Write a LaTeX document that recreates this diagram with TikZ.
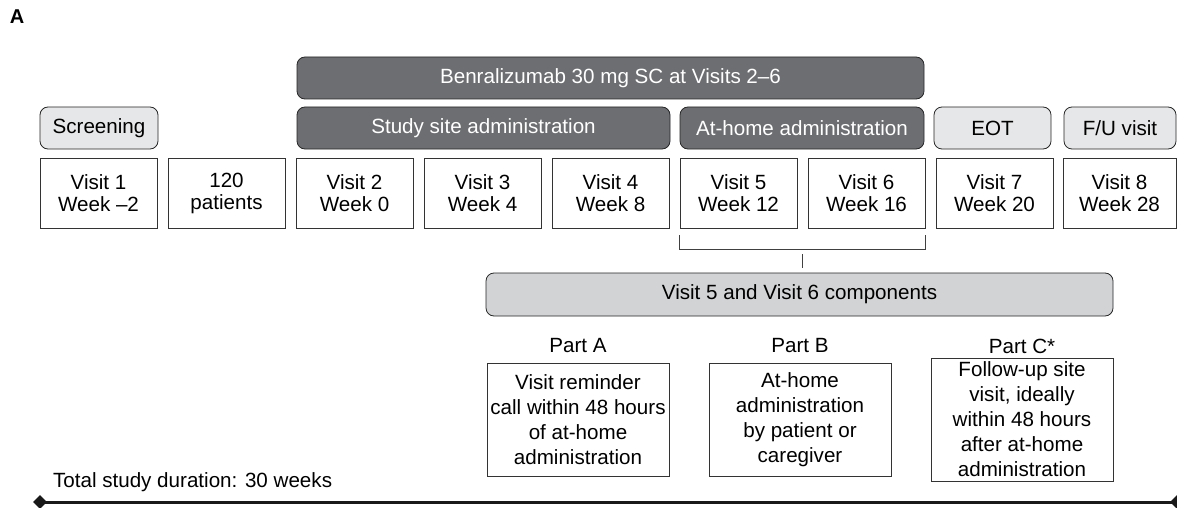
\documentclass[tikz,border=0pt]{standalone}
\usepackage{fontspec}
\setmainfont{Liberation Sans}
\usepackage{tikz}
\usetikzlibrary{shapes,arrows,fit, positioning, arrows.meta, calc}

\definecolor{darkbar}{RGB}{109,110,113}
\definecolor{lightbar}{RGB}{230,231,232}
\definecolor{compbar}{RGB}{209,211,212}

\begin{document}
\begin{tikzpicture}[
    % GLOBAL CFG
    x=0.5pt, y=-0.5pt,
    font=\fontsize{10.3}{12.5}\selectfont,
    % Styles
    visit/.style={% For the visit boxes
        rectangle,
        draw=black!80,
        thin,
        align=center,
        minimum width=58.5pt,
        minimum height=35pt,
        inner sep=1pt,
        font=\fontsize{10.3}{11}\selectfont,
        },
    darkhead/.style={% Dark headers with white text
        rectangle,
        rounded corners=4pt,
        draw=black!85,
        fill=darkbar,
        text=white,
        minimum height=21pt,
        },
    lighthead/.style={% Light headers
        rectangle,
        rounded corners=4pt,
        draw=black!85,
        fill=lightbar,
        minimum height=21pt,
        },
    part/.style={% For the part boxes
        rectangle,
        draw=black!80,
        thin,
        align=center,
        minimum width=91pt,
        inner sep=1pt,
        },
    tick/.style={% Ends of the timeline
        diamond,
        fill=black!90,
        inner sep=0pt,
        minimum size=7pt,
        },
    bracket/.style={% Bracket under visit 5 and 6
        draw=black!75,
        thin,
        },
    timeline/.style={
        line width=1.5pt,
        draw=black!90,
        }
    ]

%Panel letter
    \useasboundingbox (0,0) rectangle (1177,508);
    \node[font=\fontsize{10}{12}\selectfont\bfseries] (panel) at (17,17) {A};

    % Header bars
    \node [darkhead, minimum width=313.5pt] (drug) at (610.5,78) {Benralizumab 30 mg SC at Visits 2–6};
    \node [lighthead, minimum width=59pt] (scr) at (99,128) {Screening};
    \node [darkhead, minimum width=186.5pt] (site) at (483.5,128) {Study site administration};
    \node [darkhead, minimum width=122pt] (home) at (802,128) {At-home administration};
    \node [lighthead, minimum width=58.5pt] (eot) at (992.5,128) {EOT};
    \node [lighthead, minimum width=56pt] (fu) at (1120,128) {F/U visit};

    % Visit boxes named v#
    \node [visit] (v1) at (98.5,193) {Visit 1\\Week –2};
    \node [visit] (pat) at (226.5,193) {120\\patients};
    \node [visit] (v2) at (354.5,193) {Visit 2\\Week 0};
    \node [visit] (v3) at (482.5,193) {Visit 3\\Week 4};
    \node [visit] (v4) at (610.5,193) {Visit 4\\Week 8};
    \node [visit] (v5) at (738.5,193) {Visit 5\\Week 12};
    \node [visit] (v6) at (866.5,193) {Visit 6\\Week 16};
    \node [visit] (v7) at (994.5,193) {Visit 7\\Week 20};
    \node [visit, minimum width=56.5pt] (v8) at (1119.5,193) {Visit 8\\Week 28};

    % Components
    \node [lighthead, fill=compbar, minimum width=313.5pt, minimum height=21.5pt] (comp) at (799.5,294.5) {Visit 5 and Visit 6 components};

    % Parts, labels named lA, lB, lC
    \node [part, minimum height=56.5pt] (pA) at (578,419.5) {Visit reminder\\call within 48 hours\\of at-home\\administration};
    \node [part, minimum height=56.5pt] (pB) at (800,419.5) {At-home\\administration\\by patient or\\caregiver};
    \node [part, minimum height=61.5pt] (pC) at (1022,419.5) {Follow-up site\\visit, ideally\\within 48 hours\\after at-home\\administration};
    \node (lA) at (578,346) {Part A};
    \node (lB) at (800,346) {Part B};
    \node (lC) at (1022,346) {Part C*};

    % Timeline
    \node [tick] (t0) at (40,502) {};
    \node [tick] (t1) at (1177,502) {};
    \node [anchor=west] (dur) at (46,482) {Total study duration: 30 weeks};

% Start connecting all.
    \draw [bracket] ([yshift=-3.5pt]v5.south west) -- ([yshift=-10.5pt]v5.south west) -| ([yshift=-3.5pt]v6.south east);
    \draw [bracket] (comp.north) ++(3,-5) -- ++(0,-14);
    \draw [timeline] (t0.center) -- (t1.center);

\end{tikzpicture}
\end{document}
